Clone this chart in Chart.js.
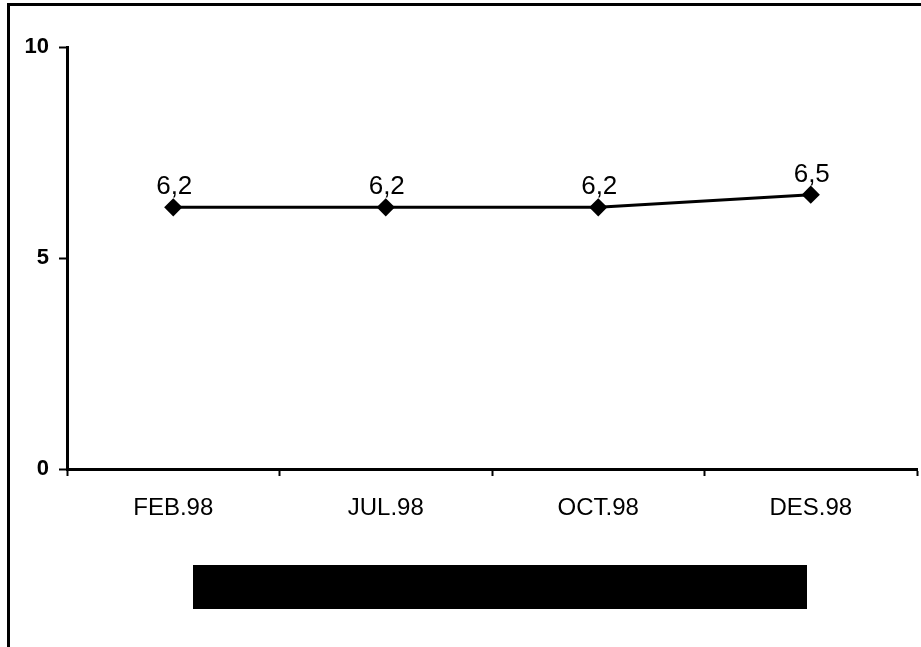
<!DOCTYPE html>
<html lang="id">
<head>
  <meta charset="UTF-8" />
  <title>Grafik 1998</title>
  <style>
    html, body { margin: 0; padding: 0; background: #fff; }
    body { width: 921px; height: 647px; position: relative; overflow: hidden; }
    /* bingkai luar */
    .bingkai {
      position: absolute; left: 7px; top: 3px; width: 930px; height: 642px;
      border-left: 3px solid #000; border-top: 3px solid #000; border-bottom: 1px solid #bbb;
    }
    /* kotak hitam di bawah grafik */
    .tutup {
      position: absolute; left: 193px; top: 565px; width: 614px; height: 44px; background: #000;
    }
    #grafik { position: absolute; left: 0; top: 0; }
  </style>
</head>
<body>
  <div class="bingkai"></div>
  <div class="tutup"></div>
  <canvas id="grafik" width="921" height="647"></canvas>

  <script src="https://cdn.jsdelivr.net/npm/chart.js"></script>
  <script>
    // Data
    const bulan = ['FEB.98', 'JUL.98', 'OCT.98', 'DES.98'];
    const nilai = [6.2, 6.2, 6.2, 6.5];
    const tickY = [0, 5, 10];

    const huruf = "'Liberation Sans', Arial, sans-serif";

    // Label nilai di atas titik (pakai koma)
    const labelNilai = {
      id: 'labelNilai',
      afterDatasetsDraw(chart) {
        const ctx = chart.ctx;
        const meta = chart.getDatasetMeta(0);
        ctx.save();
        ctx.font = '26px ' + huruf;
        ctx.fillStyle = '#000';
        ctx.textAlign = 'center';
        ctx.textBaseline = 'alphabetic';
        meta.data.forEach((p, i) => {
          const teks = nilai[i].toFixed(1).replace('.', ',');
          ctx.fillText(teks, p.x + 1, p.y - 13);
        });
        ctx.restore();
      }
    };

    new Chart(document.getElementById('grafik'), {
      type: 'line',
      data: {
        labels: bulan,
        datasets: [{
          data: nilai,
          borderColor: '#000',
          borderWidth: 3,
          backgroundColor: '#000',
          pointStyle: 'rectRot',
          pointRadius: 7,
          pointBackgroundColor: '#000',
          pointBorderColor: '#000',
          tension: 0
        }]
      },
      options: {
        responsive: false,
        animation: false,
        layout: { autoPadding: false, padding: { top: 47, right: 4, bottom: 0, left: 0 } },
        plugins: { legend: { display: false }, tooltip: { enabled: false } },
        scales: {
          x: {
            offset: true,
            afterFit: s => { s.height = 178; },
            grid: { offset: true, drawOnChartArea: false, drawTicks: true, tickLength: 7, tickWidth: 2, color: '#000' },
            border: { display: true, color: '#000', width: 3 },
            ticks: { color: '#000', padding: 18, maxRotation: 0, font: { family: huruf, size: 24 } }
          },
          y: {
            min: 0,
            max: 10,
            afterFit: s => { s.width = 67; },
            afterBuildTicks: s => { s.ticks = tickY.map(v => ({ value: v })); },
            grid: { drawOnChartArea: false, drawTicks: true, tickLength: 8, tickWidth: 2, color: '#000' },
            border: { display: true, color: '#000', width: 3 },
            ticks: { color: '#000', padding: 10, font: { family: huruf, size: 22, weight: 'bold' } }
          }
        }
      },
      plugins: [labelNilai]
    });
  </script>
</body>
</html>
